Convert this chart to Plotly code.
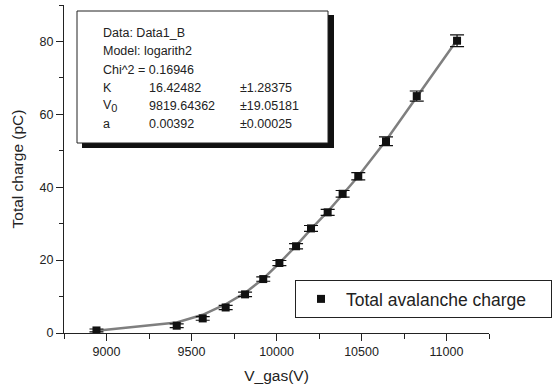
import plotly.graph_objects as go

# ---- data ----
v_gas = [8941, 9413, 9566, 9701, 9815, 9922, 10017, 10115, 10203, 10301,
         10389, 10481, 10644, 10825, 11062]
charge = [0.7, 2.0, 4.0, 7.0, 10.6, 14.8, 19.2, 23.8, 28.7, 33.1,
          38.2, 43.0, 52.6, 65.0, 80.2]
charge_err = [0.4, 0.5, 0.5, 0.6, 0.6, 0.6, 0.7, 0.7, 0.8, 0.8,
              0.9, 1.0, 1.2, 1.4, 1.6]
fit_charge = [0.6, 2.9, 5.0, 7.9, 11.0, 14.9, 19.2, 23.9, 28.5, 33.3,
              38.0, 43.0, 52.8, 64.8, 80.4]

x_ticks = [9000, 9500, 10000, 10500, 11000]
x_ticklabels = ["9000", "9500", "10000", "10500", "11000"]
y_ticks = [0, 20, 40, 60, 80]
y_ticklabels = ["0", "20", "40", "60", "80"]

info_lines = [
    ["Data: Data1_B", "", ""],
    ["Model: logarith2", "", ""],
    ["Chi^2 = 0.16946", "", ""],
    ["K", "16.42482", "\u00b11.28375"],
    ["V<sub><span style='font-size:11px'>0</span></sub>", "9819.64362", "\u00b119.05181"],
    ["a", "0.00392", "\u00b10.00025"],
]

# ---- layout geometry (pixels) ----
W, H = 560, 388
L, R, T, B = 64, 71, 5, 55
PW, PH = W - L - R, H - T - B

def px(x):
    return (x - L) / PW

def py(y):
    return (H - B - y) / PH

FONT = "Liberation Sans, Arial, sans-serif"
INK = "#222222"

fig = go.Figure()

fig.add_trace(go.Scatter(
    x=v_gas, y=fit_charge, mode="lines",
    line=dict(color="#7f7f7f", width=2.5),
    showlegend=False, hoverinfo="skip",
))

fig.add_trace(go.Scatter(
    x=v_gas, y=charge, mode="markers",
    name="Total avalanche charge&nbsp;&nbsp;&nbsp;&nbsp;",
    marker=dict(symbol="square", size=8, color="#111111"),
    error_y=dict(type="data", array=charge_err, color="#111111",
                 thickness=1.2, width=7),
))

shapes = []
# shadow
shapes.append(dict(type="rect", xref="paper", yref="paper",
                   x0=px(82), x1=px(334), y0=py(148), y1=py(15),
                   fillcolor="#111111", line=dict(width=0), layer="above"))
# box
shapes.append(dict(type="rect", xref="paper", yref="paper",
                   x0=px(77), x1=px(328), y0=py(143), y1=py(11),
                   fillcolor="white", line=dict(color=INK, width=1),
                   layer="above"))

annotations = []
line_y = [33, 51, 70, 88, 106, 124]
col_x = [101, 147, 238]
for i, row in enumerate(info_lines):
    for j, txt in enumerate(row):
        if not txt:
            continue
        annotations.append(dict(
            x=px(col_x[j]), y=py(line_y[i]), xref="paper", yref="paper",
            text=txt, showarrow=False, xanchor="left", yanchor="middle",
            font=dict(family=FONT, size=12.5, color=INK),
        ))

fig.update_layout(
    width=W, height=H,
    margin=dict(l=L, r=R, t=T, b=B, pad=0),
    paper_bgcolor="white", plot_bgcolor="white",
    font=dict(family=FONT, color=INK),
    shapes=shapes, annotations=annotations,
    legend=dict(
        x=px(295), y=py(280), xanchor="left", yanchor="top",
        bordercolor=INK, borderwidth=1, bgcolor="white",
        font=dict(family=FONT, size=17.5, color=INK),
        itemwidth=40,
    ),
    xaxis=dict(
        range=[8750, 11250], tickvals=x_ticks, ticktext=x_ticklabels,
        showgrid=False, zeroline=False, showline=True, linecolor=INK,
        linewidth=1, ticks="outside", ticklen=7, tickcolor=INK,
        tickfont=dict(size=12.5, color=INK),
        minor=dict(dtick=250, tick0=8750, ticks="outside", ticklen=5,
                   tickcolor=INK, showgrid=False),
        title=dict(text="V_gas(V)", font=dict(size=15.5, color=INK),
                   standoff=12),
    ),
    yaxis=dict(
        range=[0, 90], tickvals=y_ticks, ticktext=y_ticklabels,
        showgrid=False, zeroline=False, showline=True, linecolor=INK,
        linewidth=1, ticks="outside", ticklen=7, tickcolor=INK,
        tickfont=dict(size=12.5, color=INK),
        minor=dict(dtick=10, tick0=0, ticks="outside", ticklen=4,
                   tickcolor=INK, showgrid=False),
        title=dict(text="Total charge (pC)", font=dict(size=15.5, color=INK),
                   standoff=12),
    ),
)

fig.write_html("out.html")
